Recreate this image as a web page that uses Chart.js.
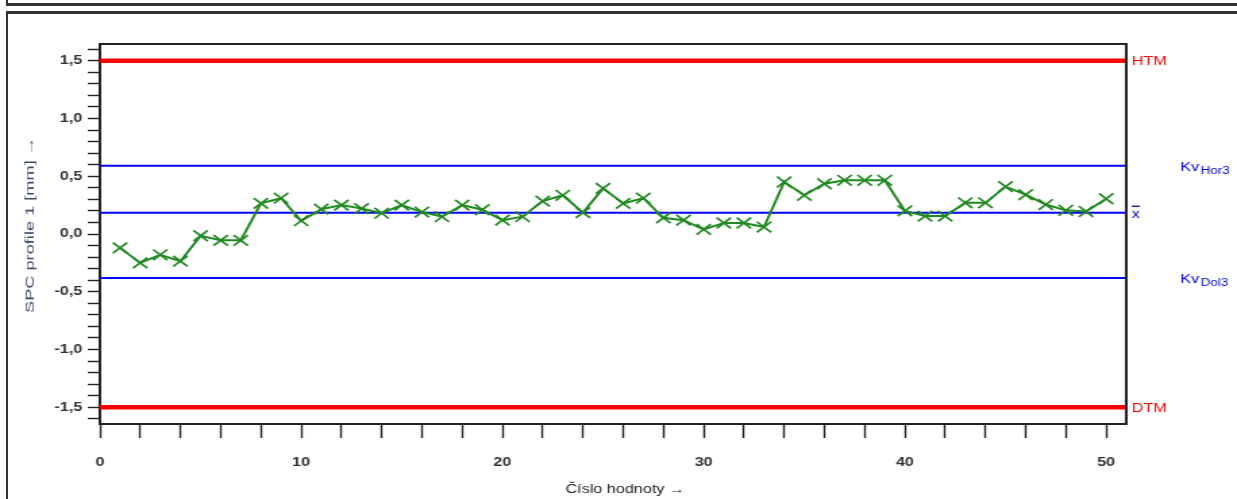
<!DOCTYPE html>
<html>
<head>
<meta charset="utf-8">
<title>SPC profile 1</title>
<script src="https://cdn.jsdelivr.net/npm/chart.js@4.4.1/dist/chart.umd.min.js"></script>
<style>
  html, body { margin: 0; padding: 0; background: #fff; overflow: hidden; }
  body { width: 1237px; height: 499px; position: relative; }
  #prevBox { position: absolute; left: 6px; top: -14px; width: 1240px; height: 17px;
             border-left: 2px solid #333; border-bottom: 3px solid #333; }
  #box { position: absolute; left: 6px; top: 11px; width: 1240px; height: 500px;
         border-left: 2px solid #333; border-top: 3px solid #333; }
  /* the original picture is stretched sideways, so the chart is drawn narrow and widened */
  #wrap { position: absolute; left: 0; top: 0; width: 916px; height: 499px;
          transform: scaleX(1.35044); transform-origin: 0 0; }
</style>
</head>
<body>
<div id="prevBox"></div>
<div id="box"></div>
<div id="wrap"><canvas id="spcChart" width="916" height="499"></canvas></div>
<script>
// sample numbers (x) and measured values (y)
var sampleNo = [1, 2, 3, 4, 5, 6, 7, 8, 9, 10,
                11, 12, 13, 14, 15, 16, 17, 18, 19, 20,
                21, 22, 23, 24, 25, 26, 27, 28, 29, 30,
                31, 32, 33, 34, 35, 36, 37, 38, 39, 40,
                41, 42, 43, 44, 45, 46, 47, 48, 49, 50];
var profile1 = [-0.12, -0.25, -0.18, -0.235, -0.015, -0.055, -0.055, 0.265, 0.31, 0.115,
                0.215, 0.25, 0.22, 0.18, 0.25, 0.19, 0.15, 0.25, 0.21, 0.12,
                0.15, 0.285, 0.335, 0.185, 0.395, 0.265, 0.31, 0.14, 0.12, 0.04,
                0.095, 0.095, 0.06, 0.45, 0.335, 0.435, 0.465, 0.465, 0.465, 0.2,
                0.155, 0.155, 0.27, 0.27, 0.41, 0.34, 0.255, 0.205, 0.195, 0.305];

// limit lines
var limitNames  = ['HTM', 'KvHor3', 'mean', 'KvDol3', 'DTM'];
var limitValues = [1.5, 0.59, 0.185, -0.38, -1.5];
var limitColors = ['#ff0000', '#0000ff', '#0000ff', '#0000ff', '#ff0000'];
var limitWidths = [4.5, 2, 2, 2, 4.5];

// ticks
var xTickValues = [0, 2, 4, 6, 8, 10, 12, 14, 16, 18, 20, 22, 24, 26, 28, 30,
                   32, 34, 36, 38, 40, 42, 44, 46, 48, 50];
var yTickValues = [-1.6, -1.5, -1.4, -1.3, -1.2, -1.1, -1.0, -0.9, -0.8, -0.7, -0.6,
                   -0.5, -0.4, -0.3, -0.2, -0.1, 0, 0.1, 0.2, 0.3, 0.4, 0.5,
                   0.6, 0.7, 0.8, 0.9, 1.0, 1.1, 1.2, 1.3, 1.4, 1.5, 1.6];

var xTitle = 'Číslo hodnoty →';
var yTitle = 'SPC profile 1 [mm] →';

var FONT = '"Liberation Sans", Arial, sans-serif';
var GREEN = '#1f8a1f';
var X_MAX = 51;
var STRETCH = 1237 / 916;

var points = sampleNo.map(function(n, i) { return {x: n, y: profile1[i]}; });

var datasets = [{
    label: 'SPC profile 1',
    data: points,
    borderColor: GREEN,
    borderWidth: 2,
    tension: 0,
    pointStyle: 'crossRot',
    pointRadius: 7.5,
    pointBorderColor: GREEN,
    pointBorderWidth: 1.7,
    pointBackgroundColor: GREEN
}];
limitValues.forEach(function(v, i) {
    datasets.push({
        label: limitNames[i],
        data: [{x: 0, y: v}, {x: X_MAX, y: v}],
        borderColor: limitColors[i],
        borderWidth: limitWidths[i],
        pointRadius: 0
    });
});

// top and right edge of the plot box
var plotFrame = {
    id: 'plotFrame',
    afterDraw: function(chart) {
        var a = chart.chartArea, ctx = chart.ctx;
        ctx.save();
        ctx.strokeStyle = '#222';
        ctx.lineWidth = 2;
        ctx.beginPath();
        ctx.moveTo(a.left, a.top);
        ctx.lineTo(a.right, a.top);
        ctx.lineTo(a.right, a.bottom);
        ctx.stroke();
        ctx.restore();
    }
};

// axis titles (the y title is long and thin in the original)
var axisTitles = {
    id: 'axisTitles',
    afterDraw: function(chart) {
        var ctx = chart.ctx, a = chart.chartArea;
        ctx.save();
        ctx.textAlign = 'center';
        ctx.textBaseline = 'middle';
        ctx.font = '12px ' + FONT;
        ctx.fillStyle = '#222';
        ctx.fillText(xTitle, (a.left + a.right) / 2 + 9, 490);

        ctx.translate(30 / STRETCH, 225);
        ctx.scale(1 / STRETCH, 1);
        ctx.rotate(-Math.PI / 2);
        ctx.scale(1.4, 1);
        ctx.font = '13px ' + FONT;
        ctx.fillStyle = '#3e4a72';
        ctx.fillText(yTitle, 0, 0);
        ctx.restore();
    }
};

// names of the limit lines on the right
var limitLabels = {
    id: 'limitLabels',
    afterDraw: function(chart) {
        var ctx = chart.ctx, ys = chart.scales.y, right = chart.chartArea.right;
        ctx.save();
        ctx.textBaseline = 'middle';
        ctx.textAlign = 'left';
        limitNames.forEach(function(name, i) {
            var py = ys.getPixelForValue(limitValues[i]);
            ctx.fillStyle = limitColors[i];
            ctx.font = '12px ' + FONT;
            if (name === 'HTM' || name === 'DTM') {
                ctx.fillText(name, right + 4, py + 1);
            } else if (name === 'mean') {
                var w = ctx.measureText('x').width;
                ctx.fillText('x', right + 4, py + 2);
                ctx.fillRect(right + 4, py - 7, w, 1.3);
            } else {
                var kw = ctx.measureText('Kv').width;
                ctx.fillText('Kv', right + 40, py + 1.5);
                ctx.font = '10px ' + FONT;
                ctx.fillText(name.substring(2), right + 41 + kw, py + 5);
            }
        });
        ctx.restore();
    }
};

new Chart(document.getElementById('spcChart'), {
    type: 'line',
    data: {datasets: datasets},
    options: {
        responsive: false,
        animation: false,
        devicePixelRatio: 1,
        layout: {autoPadding: false, padding: {left: 0, top: 44, right: 82, bottom: 0}},
        plugins: {legend: {display: false}, tooltip: {enabled: false}},
        scales: {
            x: {
                type: 'linear',
                min: 0,
                max: X_MAX,
                afterBuildTicks: function(scale) {
                    scale.ticks = xTickValues.map(function(v) { return {value: v}; });
                },
                afterFit: function(scale) { scale.height = 75; },
                grid: {drawOnChartArea: false, drawTicks: true, tickLength: 14,
                       tickWidth: 1.4, tickColor: '#222'},
                border: {display: true, color: '#222', width: 2},
                ticks: {
                    autoSkip: false,
                    maxRotation: 0,
                    padding: 17,
                    color: '#333',
                    font: {family: FONT, size: 12, weight: 'bold'},
                    callback: function(v) { return v % 10 === 0 ? String(v) : ''; }
                },
                title: {display: false}
            },
            y: {
                min: -1.645,
                max: 1.645,
                afterBuildTicks: function(scale) {
                    scale.ticks = yTickValues.map(function(v) { return {value: v}; });
                },
                afterFit: function(scale) { scale.width = 74; },
                grid: {drawOnChartArea: false, drawTicks: true, tickLength: 9,
                       tickWidth: 1.4, tickColor: '#222'},
                border: {display: true, color: '#222', width: 2},
                ticks: {
                    autoSkip: false,
                    padding: 4,
                    color: '#333',
                    font: {family: FONT, size: 12, weight: 'bold'},
                    callback: function(v) {
                        if (Math.abs(v * 2 - Math.round(v * 2)) > 1e-6) return '';
                        return (Math.abs(v) < 1e-9 ? 0 : v).toFixed(1).replace('.', ',');
                    }
                },
                title: {display: false}
            }
        }
    },
    plugins: [plotFrame, axisTitles, limitLabels]
});
</script>
</body>
</html>
